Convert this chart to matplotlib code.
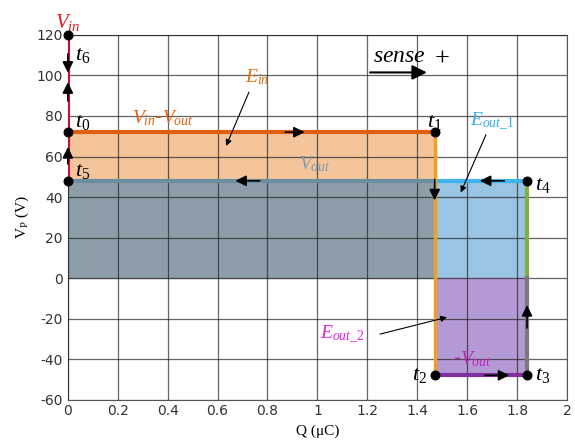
import matplotlib
matplotlib.use("Agg")
import matplotlib.pyplot as plt

# operating points (Q in uC, V in volts)
q_t1 = 1.47
q_t4 = 1.84
v_in = 120
v_in_out = 72
v_out = 48

pt_names = ["t_6", "t_0", "t_5", "t_1", "t_4", "t_2", "t_3"]
pt_q = [0, 0, 0, q_t1, q_t4, q_t1, q_t4]
pt_v = [v_in, v_in_out, v_out, v_in_out, v_out, -v_out, -v_out]

xticks = [0, 0.2, 0.4, 0.6, 0.8, 1, 1.2, 1.4, 1.6, 1.8, 2]
yticks = [-60, -40, -20, 0, 20, 40, 60, 80, 100, 120]

plt.rcParams["mathtext.fontset"] = "custom"
plt.rcParams["mathtext.rm"] = "Liberation Serif"
plt.rcParams["mathtext.it"] = "Liberation Serif:italic"
plt.rcParams["axes.unicode_minus"] = False

fig, ax = plt.subplots(figsize=(5.75, 4.48), dpi=100)
fig.subplots_adjust(left=0.118, right=0.986, top=0.922, bottom=0.108)

# shaded energy areas
ax.fill_between([0, q_t1], v_out, v_in_out, color="#f4c49a", zorder=1)
ax.fill_between([0, q_t1], 0, v_out, color="#8d9ea8", zorder=1)
ax.fill_between([q_t1, q_t4], 0, v_out, color="#9ac4e4", zorder=1)
ax.fill_between([q_t1, q_t4], -v_out, 0, color="#b49ad4", zorder=1)

ax.set_xlim(0, 2)
ax.set_ylim(-60, 120)
ax.set_xticks(xticks)
ax.set_xticklabels(["0", "0.2", "0.4", "0.6", "0.8", "1", "1.2", "1.4", "1.6", "1.8", "2"])
ax.set_yticks(yticks)
ax.grid(True, color="#222222", linewidth=0.9, alpha=0.7, zorder=2)
ax.set_axisbelow(False)
ax.tick_params(labelsize=10, length=0, colors="#333333")
for s in ax.spines.values():
    s.set_color("#555555")
    s.set_linewidth(0.8)

# cycle lines
ax.plot([0, 0], [v_out, v_in], color="#c0143c", lw=3, zorder=4)
ax.plot([0, q_t1], [v_in_out, v_in_out], color="#e06010", lw=3, zorder=4)
ax.plot([0, q_t1], [v_out, v_out], color="#6a8ea0", lw=3, zorder=4)
ax.plot([q_t1, q_t4], [v_out, v_out], color="#40b4e8", lw=3, zorder=4)
ax.plot([q_t1, q_t1], [-v_out, v_in_out], color="#f0a020", lw=2.5, zorder=4)
ax.plot([q_t4, q_t4], [0, v_out], color="#80b040", lw=3, zorder=4)
ax.plot([q_t4, q_t4], [-v_out, 0], color="#7a7a7a", lw=3, zorder=4)
ax.plot([q_t1, q_t4], [-v_out, -v_out], color="#8030a0", lw=3, zorder=4)

# direction arrows
arr = dict(arrowstyle="-|>", color="black", lw=1.2, mutation_scale=16)
segs = [((0, 112), (0, 100)), ((0, 86), (0, 98)), ((0, 55), (0, 66)),
        ((0.86, v_in_out), (0.96, v_in_out)), ((0.78, v_out), (0.66, v_out)),
        ((1.76, v_out), (1.64, v_out)), ((q_t1, 50), (q_t1, 37)),
        ((1.66, -v_out), (1.78, -v_out)), ((q_t4, -26), (q_t4, -12))]
for a, b in segs:
    ax.annotate("", xy=b, xytext=a, arrowprops=arr, zorder=6)

ax.scatter(pt_q, pt_v, s=38, color="black", zorder=7, clip_on=False)

# point labels
offs = {"t_6": (0.03, -10), "t_0": (0.03, 5), "t_5": (0.03, 5), "t_1": (-0.03, 5),
        "t_4": (0.03, -2), "t_2": (-0.09, 0), "t_3": (0.03, 0)}
for n, q, v in zip(pt_names, pt_q, pt_v):
    dx, dy = offs[n]
    ax.text(q + dx, v + dy, "$" + n + "$", fontsize=16, va="center", ha="left", zorder=8)

ax.text(0, 126, "$V_{in}$", color="#e02020", fontsize=15, ha="center", va="center", clip_on=False)
ax.text(0.38, 79, "$V_{in}$-$V_{out}$", color="#e06010", fontsize=14, ha="center", va="center")
ax.text(0.99, 56, "$V_{out}$", color="#7a9cb0", fontsize=14, ha="center", va="center")
ax.text(1.62, -40, "-$V_{out}$", color="#c020c0", fontsize=14, ha="center", va="center")
ax.text(0.76, 99, "$E_{in}$", color="#e07010", fontsize=14, ha="center", va="center")
ax.text(1.7, 77, "$E_{out\\_1}$", color="#30b0f0", fontsize=14, ha="center", va="center")
ax.text(1.1, -28, "$E_{out\\_2}$", color="#e020e0", fontsize=14, ha="center", va="center")
ax.text(1.33, 110, "$sense$", fontsize=17, ha="center", va="center")
ax.text(1.5, 108, "+", fontsize=19, ha="center", va="center", family="Liberation Serif")

thin = dict(arrowstyle="-|>", color="black", lw=0.8, mutation_scale=9)
ax.annotate("", xy=(0.63, 64), xytext=(0.73, 93), arrowprops=thin, zorder=6)
ax.annotate("", xy=(1.57, 41), xytext=(1.68, 72), arrowprops=thin, zorder=6)
ax.annotate("", xy=(1.53, -19), xytext=(1.24, -28), arrowprops=thin, zorder=6)
ax.annotate("", xy=(1.45, 101.5), xytext=(1.2, 101.5),
            arrowprops=dict(arrowstyle="-|>", color="black", lw=1.5, mutation_scale=22), zorder=6)

ax.set_xlabel("Q (\u03bcC)", family="Liberation Serif", fontsize=11)
ax.set_ylabel("V$_\\mathrm{P}$ (V)", family="Liberation Serif", fontsize=11)

plt.savefig("out.png", dpi=100)
